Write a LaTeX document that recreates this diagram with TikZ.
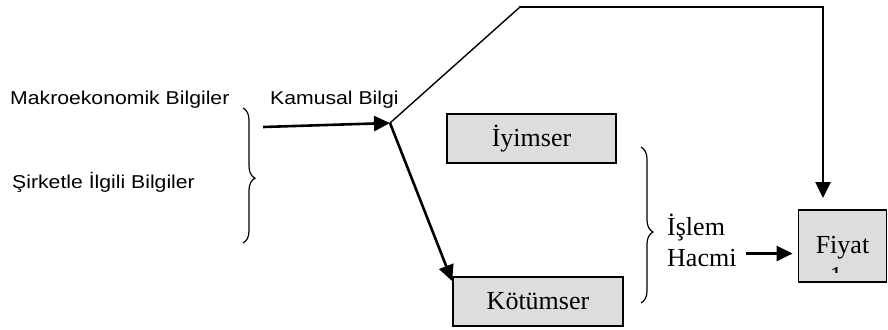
\documentclass[tikz,border=0pt]{standalone}
\usepackage{fontspec}
\usepackage{graphicx}
\setmainfont{Liberation Serif}
\newfontfamily\labelsans{Liberation Sans}
\usetikzlibrary{arrows.meta,decorations.pathreplacing,calc}
\definecolor{boxfill}{RGB}{221,221,221}
% wide sans labels
\newcommand\widelabel[1]{\scalebox{1.14}[1]{#1}}
\begin{document}
\begin{tikzpicture}[x=1pt,y=1pt,
  sanslbl/.style={inner sep=0pt, anchor=base west, font=\labelsans\fontsize{18.6}{22}\selectfont},
  seriflbl/.style={inner sep=0pt, font=\fontsize{26}{30}\selectfont},
  statebox/.style={draw, fill=boxfill, line width=1.8pt, inner sep=0pt, font=\fontsize{26}{30}\selectfont},
  thickarrow/.style={line width=2.6pt, -{Triangle[length=16pt,width=15pt]}},
  thinline/.style={line width=1.4pt},
  thickline/.style={line width=2.6pt},
  bracestyle/.style={line width=1.2pt, decorate, decoration={brace, amplitude=12pt, aspect=#1}}]
\useasboundingbox (0,0) rectangle (888,-329);

% information sources
\node[sanslbl] (makro) at (10,-104) {\widelabel{Makroekonomik Bilgiler}};
\node[sanslbl] (sirket) at (12,-188) {\widelabel{Şirketle İlgili Bilgiler}};
\node[sanslbl] (kamusal) at (270,-104) {\widelabel{Kamusal Bilgi}};

% investor moods
\node[statebox, minimum width=169pt, minimum height=49pt] (iyi) at (531.5,-138.5) {İyimser};
\node[statebox, minimum width=170pt, minimum height=49pt] (kotu) at (538,-301.5) {Kötümser};

% price box
\node[statebox, minimum width=88pt, minimum height=72pt] (fiyat) at (842.5,-246) {};
\node[seriflbl, anchor=base] (fiyattxt) at (842.5,-253) {Fiyat};
\begin{scope}
  \clip (826,-266) rectangle (846,-272.5);
  \node[seriflbl, anchor=base] (fiyatline) at (836,-284) {1};
\end{scope}

% trading volume
\node[seriflbl, anchor=base west] (islem) at (667,-235) {İşlem};
\node[seriflbl, anchor=base west] (hacmi) at (667,-266) {Hacmi};

% braces
\coordinate (b1a) at (243,-108);
\coordinate (b1b) at (243,-243);
\draw[bracestyle=0.52] (b1a) -- (b1b);
\coordinate (b2a) at (641,-147);
\coordinate (b2b) at (641,-303);
\draw[bracestyle=0.545] (b2a) -- (b2b);

% connectors
\coordinate (kstart) at (263,-127);
\coordinate (J) at (390,-123);
\coordinate (bend) at (520,-7);
\coordinate (corner) at (823,-7);
\coordinate (fiyatin) at (823,-198);

\draw[thickarrow] (kstart) -- (J);
\draw[thinline] (J) -- (bend);
\draw[thickline, line cap=rect] (bend) -- (corner);
\draw[thickarrow] (corner) -- (fiyatin);
\draw[thickarrow] (J) -- ($(kotu.north west)+(0,-5)$);
\draw[thickarrow] ($(hacmi.east)+(9,4)$) -- ($(fiyat.west |- hacmi.east)+(-5,4)$);
\end{tikzpicture}
\end{document}
